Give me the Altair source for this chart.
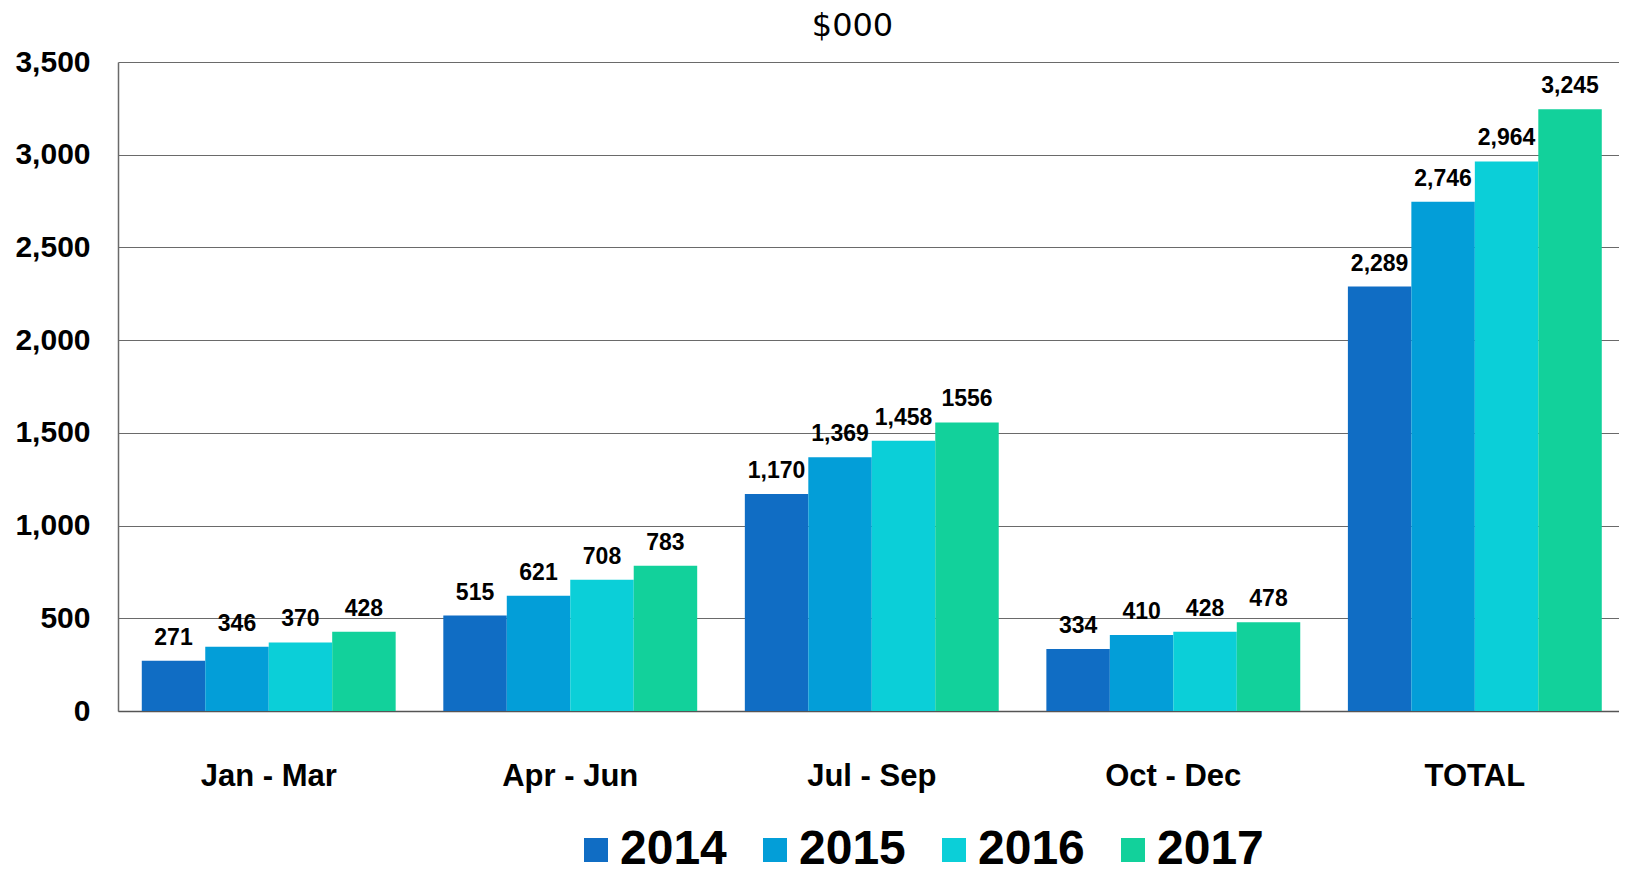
import altair as alt
import pandas as pd

periods = ["Jan - Mar", "Apr - Jun", "Jul - Sep", "Oct - Dec", "TOTAL"]
years = ["2014", "2015", "2016", "2017"]
values = {
    "2014": [271, 515, 1170, 334, 2289],
    "2015": [346, 621, 1369, 410, 2746],
    "2016": [370, 708, 1458, 428, 2964],
    "2017": [428, 783, 1556, 478, 3245],
}
label_text = {
    "2014": ["271", "515", "1,170", "334", "2,289"],
    "2015": ["346", "621", "1,369", "410", "2,746"],
    "2016": ["370", "708", "1,458", "428", "2,964"],
    "2017": ["428", "783", "1556", "478", "3,245"],
}
colors = ["#106DC4", "#039ED8", "#0BCFD8", "#12D19B"]
y_ticks = [0, 500, 1000, 1500, 2000, 2500, 3000, 3500]

rows = []
for y in years:
    for i, p in enumerate(periods):
        rows.append({"period": p, "year": y, "value": values[y][i], "label": label_text[y][i]})
df = pd.DataFrame(rows)

FONT = "Liberation Sans"

x_enc = alt.X(
    "period:N",
    sort=periods,
    scale=alt.Scale(paddingInner=0.158, paddingOuter=0.068, align=0.58),
    axis=alt.Axis(
        title=None, labelAngle=0, ticks=False, labelFontSize=31, labelFontWeight="bold",
        labelFont=FONT, labelColor="#000000", labelPadding=50, domainColor="#555555",
        domainWidth=1.5,
    ),
)
xo_enc = alt.XOffset("year:N", sort=years, scale=alt.Scale(paddingInner=0, paddingOuter=0))
y_enc = alt.Y(
    "value:Q",
    scale=alt.Scale(domain=[0, 3500], nice=False),
    axis=alt.Axis(
        title=None, values=y_ticks, format=",.0f", ticks=False, labelFontSize=30,
        labelFontWeight="bold", labelFont=FONT, labelColor="#000000", labelPadding=28,
        gridColor="#6a6a6a", gridWidth=1, domainColor="#6a6a6a", domainWidth=1.5,
    ),
)

bars = alt.Chart(df).mark_bar().encode(
    x=x_enc,
    xOffset=xo_enc,
    y=y_enc,
    color=alt.Color(
        "year:N",
        sort=years,
        scale=alt.Scale(domain=years, range=colors),
        legend=alt.Legend(
            title=None, orient="none", direction="horizontal", legendX=454, legendY=764,
            symbolType="square", symbolSize=576, symbolStrokeWidth=0,
            labelFontSize=48, labelFontWeight="bold", labelFont=FONT, labelColor="#000000",
            labelOffset=0, columnPadding=24, padding=0, labelLimit=300,
        ),
    ),
)

labels = alt.Chart(df).mark_text(
    fontSize=23, fontWeight="bold", font=FONT, color="#000000",
    baseline="alphabetic", dy=-16,
).encode(
    x=alt.X("period:N", sort=periods),
    xOffset=alt.XOffset("year:N", sort=years),
    y="value:Q",
    text="label:N",
)

chart = (
    alt.layer(bars, labels)
    .properties(
        width=1501,
        height=649,
        title=alt.TitleParams(
            "$000", fontSize=32, fontWeight="normal", font="DejaVu Sans", color="#000000",
            anchor="middle", dx=-16, offset=4,
        ),
        padding={"left": 110, "top": 54, "right": 0, "bottom": 155},
        autosize=alt.AutoSizeParams(type="none"),
    )
    .configure_view(stroke=None)
)

chart.save("out.html", embed_options={"renderer": "svg", "actions": False})
